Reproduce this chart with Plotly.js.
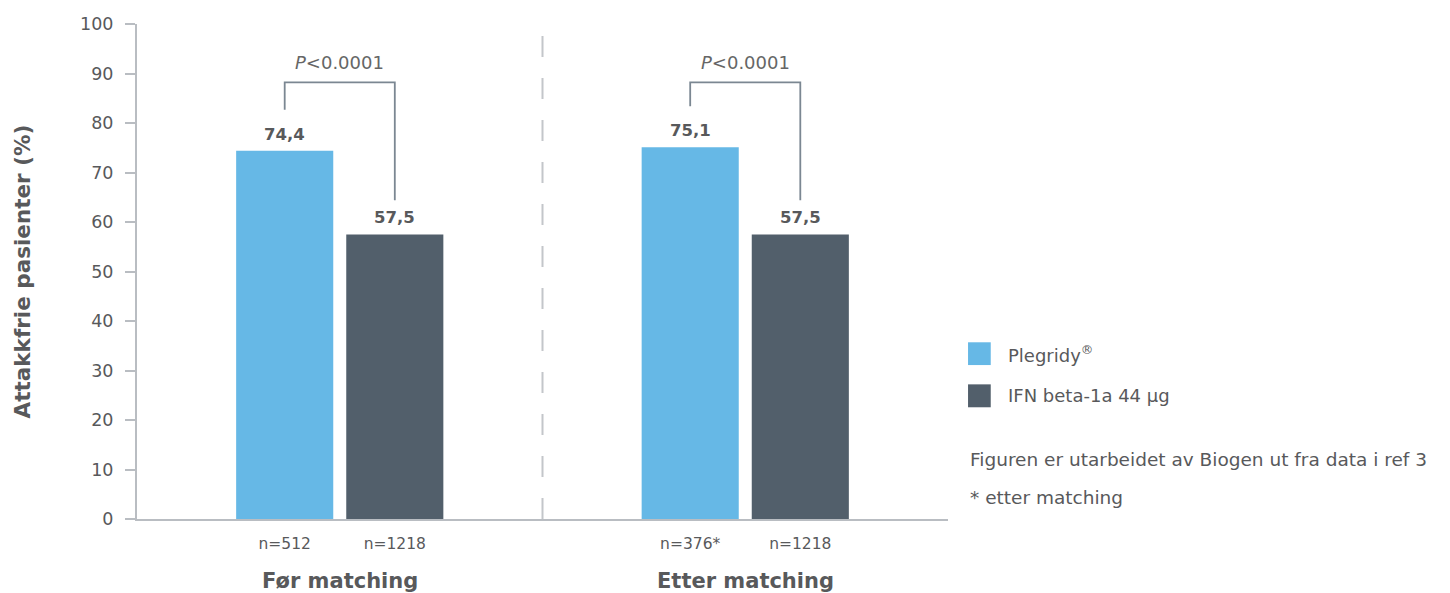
<!DOCTYPE html>
<html>
<head>
<meta charset="utf-8">
<script src="https://cdn.plot.ly/plotly-3.0.1.min.js"></script>
<style>html,body{margin:0;padding:0;background:#fff;}#chart{width:1450px;height:593px;}</style>
</head>
<body>
<div id="chart"></div>
<script>
// ---- data ----
const groups = ['Før matching', 'Etter matching'];
const seriesNames = ['Plegridy<sup>®</sup>', 'IFN beta-1a 44 µg'];
const plegridy = [74.4, 75.1];
const ifn = [57.5, 57.5];
const nPlegridy = ['n=512', 'n=376*'];
const nIfn = ['n=1218', 'n=1218'];
const pLabels = ['<i>P</i>&lt;0.0001', '<i>P</i>&lt;0.0001'];
const yTicks = [0, 10, 20, 30, 40, 50, 60, 70, 80, 90, 100];
const footnotes = ['Figuren er utarbeidet av Biogen ut fra data i ref 3', '* etter matching'];

// ---- style ----
const FONT = 'DejaVu Sans, sans-serif';
const TXT = '#58595b';
const C1 = '#66b8e6';
const C2 = '#525f6b';
const AXIS = '#b9bdc2';
const bargap = 0.457, bargroupgap = 0.118;
const half = (1 - bargap) / 4; // offset of each bar centre from group centre

const gx = groups.map((_, i) => i);
const traces = [
  {type: 'bar', x: gx, y: plegridy, name: seriesNames[0], marker: {color: C1}, hoverinfo: 'y'},
  {type: 'bar', x: gx, y: ifn, name: seriesNames[1], marker: {color: C2}, hoverinfo: 'y'}
];

const fmt = v => v.toFixed(1).replace('.', ',');
const annotations = [];
const shapes = [];
gx.forEach((g, i) => {
  const xl = g - half, xr = g + half;
  annotations.push({x: xl, y: plegridy[i], xref: 'x', yref: 'y', text: '<b>' + fmt(plegridy[i]) + '</b>', showarrow: false, yanchor: 'bottom', yshift: 5, font: {family: FONT, size: 16.5, color: TXT}});
  annotations.push({x: xr, y: ifn[i], xref: 'x', yref: 'y', text: '<b>' + fmt(ifn[i]) + '</b>', showarrow: false, yanchor: 'bottom', yshift: 5, font: {family: FONT, size: 16.5, color: TXT}});
  annotations.push({x: g, y: 0, xref: 'x', yref: 'paper', text: '<b>' + groups[i] + '</b>', showarrow: false, yanchor: 'middle', yshift: -62, font: {family: FONT, size: 21, color: TXT}});
  const top = 88.2;
  annotations.push({x: g, y: top, xref: 'x', yref: 'y', text: pLabels[i], showarrow: false, yanchor: 'bottom', yshift: 7, font: {family: FONT, size: 18, color: '#666'}});
  shapes.push({type: 'path', xref: 'x', yref: 'y',
    path: `M ${xl} ${plegridy[i] + 8.3} L ${xl} ${top} L ${xr} ${top} L ${xr} ${ifn[i] + 6.9}`,
    line: {color: '#7b8792', width: 1.8}});
});
shapes.push({type: 'line', xref: 'x', yref: 'y', x0: 0.5, x1: 0.5, y0: 0, y1: 97.7, line: {color: '#c3c6ca', width: 2, dash: '21px,21px'}});

// custom legend
const legX0 = 1.0247, legX1 = 1.0527, legTextX = 1.0715;
const legY = [[0.311, 0.357], [0.2257, 0.272]];
[C1, C2].forEach((c, i) => {
  shapes.push({type: 'rect', xref: 'paper', yref: 'paper', x0: legX0, x1: legX1, y0: legY[i][0], y1: legY[i][1], line: {width: 0}, fillcolor: c});
  annotations.push({x: legTextX, y: (legY[i][0] + legY[i][1]) / 2, xref: 'paper', yref: 'paper', xanchor: 'left', yanchor: 'middle', text: seriesNames[i], showarrow: false, font: {family: FONT, size: 18, color: TXT}});
});
const footY = [0.1205, 0.0437];
footnotes.forEach((t, i) => {
  annotations.push({x: 1.0247, y: footY[i], xref: 'paper', yref: 'paper', xanchor: 'left', yanchor: 'middle', text: t, showarrow: false, font: {family: FONT, size: 18.5, color: TXT}});
});

const tickPos = [], tickTxt = [];
gx.forEach((g, i) => { tickPos.push(g - half, g + half); tickTxt.push(nPlegridy[i], nIfn[i]); });

const layout = {
  width: 1450, height: 593,
  margin: {l: 137, r: 502, t: 24, b: 74},
  paper_bgcolor: '#fff', plot_bgcolor: '#fff',
  showlegend: false,
  barmode: 'group', bargap: bargap, bargroupgap: bargroupgap,
  font: {family: FONT, color: TXT},
  xaxis: {range: [-0.5, 1.5], tickvals: tickPos, ticktext: tickTxt, showgrid: false, zeroline: false,
    showline: true, linecolor: AXIS, linewidth: 2, ticks: '', ticklabelstandoff: 9,
    tickfont: {family: FONT, size: 15.5, color: TXT}, fixedrange: true},
  yaxis: {range: [0, 100], tickvals: yTicks, showgrid: false, zeroline: false, showline: true,
    linecolor: AXIS, linewidth: 2, ticks: 'outside', ticklen: 10, tickwidth: 2, tickcolor: AXIS,
    ticklabelstandoff: 8, tickfont: {family: FONT, size: 17.5, color: TXT},
    title: {text: '<b>Attakkfrie pasienter (%)</b>', font: {family: FONT, size: 21.5, color: TXT}, standoff: 44},
    automargin: false, fixedrange: true},
  annotations: annotations,
  shapes: shapes
};
Plotly.newPlot('chart', traces, layout, {displayModeBar: false, staticPlot: true});
</script>
</body>
</html>
